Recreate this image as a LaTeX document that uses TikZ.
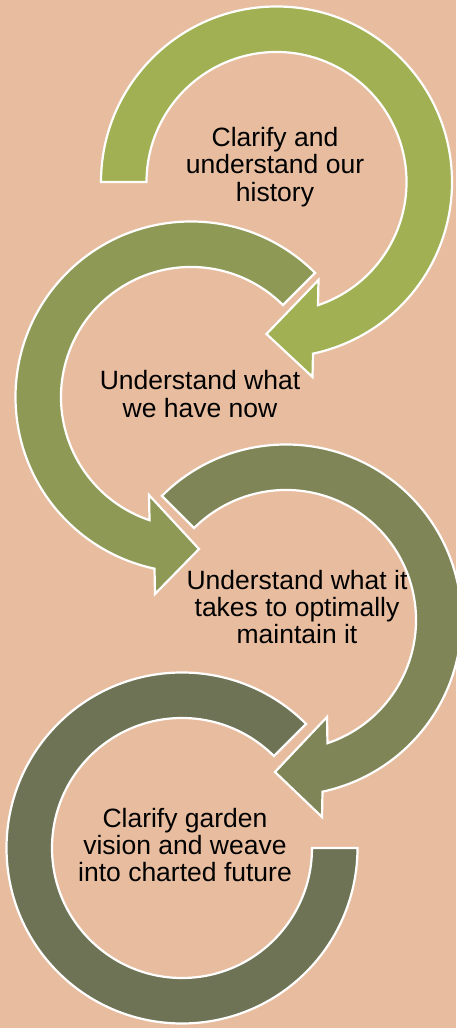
\documentclass[tikz,border=0pt]{standalone}
\usepackage{fontspec}
\setmainfont{Liberation Sans}
\usetikzlibrary{calc}
\definecolor{bgpeach}{RGB}{232,189,159}
\definecolor{olivea}{RGB}{160,176,82}
\definecolor{oliveb}{RGB}{142,153,86}
\definecolor{olivec}{RGB}{127,133,86}
\definecolor{olived}{RGB}{111,115,86}
\begin{document}
\begin{tikzpicture}[x=1pt,y=1pt,
  ring/.style={draw=white, line width=2.2pt, line join=miter, miter limit=10},
  label/.style={align=center, inner sep=0pt, text=black,
    font=\fontsize{26.5}{27.4}\selectfont}]
\useasboundingbox (0,0) rectangle (456,1028);
\fill[bgpeach] (0,0) rectangle (456,1028);

% fourth ring: open loop ending flat on the right
\begin{scope}[shift={(182,180)}]
  \path[ring, fill=olived] (45:175.5pt) arc[start angle=45, end angle=360, radius=175.5pt]
    -- (0:130pt) arc[start angle=360, end angle=45, radius=130pt] -- cycle;
\end{scope}

% third ring: clockwise, head pointing left at the bottom
\begin{scope}[shift={(286,408)}]
  \path[ring, fill=olivec] (135:175.5pt) arc[start angle=135, end angle=-78, radius=175.5pt]
    -- (36,-197) -- (-11,-152) -- (41,-97)
    -- (-71.4:130pt) arc[start angle=-71.4, end angle=135, radius=130pt] -- cycle;
\end{scope}

% second ring: counter-clockwise, head pointing right at the bottom
\begin{scope}[shift={(191,631)}]
  \path[ring, fill=oliveb] (45:175.5pt) arc[start angle=45, end angle=258, radius=175.5pt]
    -- (-36,-197) -- (8,-152) -- (-42,-98)
    -- (251.4:130pt) arc[start angle=251.4, end angle=45, radius=130pt] -- cycle;
\end{scope}

% first ring: clockwise from the flat left end
\begin{scope}[shift={(276.5,846)}]
  \path[ring, fill=olivea] (180:175.5pt) arc[start angle=180, end angle=-78, radius=175.5pt]
    -- (36,-195) -- (-10,-152) -- (42,-98)
    -- (-71.4:130pt) arc[start angle=-71.4, end angle=180, radius=130pt] -- cycle;
\end{scope}

\node[label] (history) at (275,861) {Clarify and\\understand our\\history};
\node[label] (now) at (200,634) {Understand what\\we have now};
\node[label] (maintain) at (297,421) {Understand what it\\takes to optimally\\maintain it};
\node[label] (future) at (185,183) {Clarify garden\\vision and weave\\into charted future};
\end{tikzpicture}
\end{document}
